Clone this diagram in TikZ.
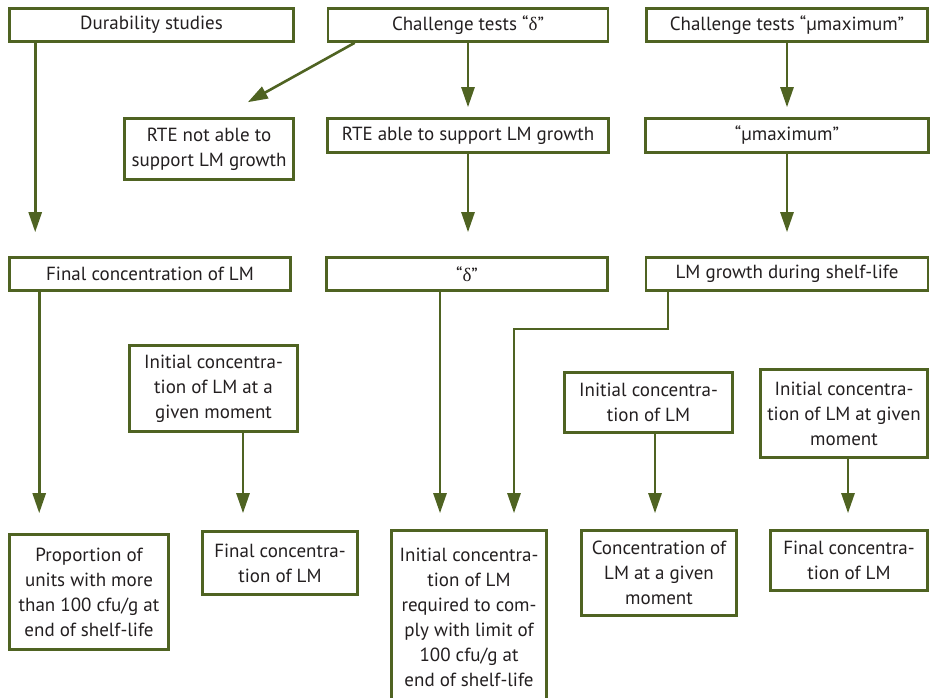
\documentclass[tikz,border=0pt]{standalone}
\usepackage{fontspec}
\setmainfont{PT Sans}
\newfontfamily\grk{Liberation Serif}
\usetikzlibrary{arrows.meta}
\definecolor{lmgreen}{RGB}{79,99,34}
\definecolor{lmtext}{RGB}{35,31,32}

\begin{document}
\begin{tikzpicture}[x=1pt, y=-1pt,
    every node/.style={font=\fontsize{19}{25}\selectfont, text=lmtext},
    box/.style={draw=lmgreen, line width=2.6pt, fill=white, align=center, inner sep=0pt},
    arrow/.style={draw=lmgreen, line width=2.6pt, -{Triangle[length=20pt,width=13pt]}}]
            \useasboundingbox (0,0) rectangle (931,698);

            \node[box, minimum width=284pt, minimum height=33pt] (dur) at (151.5,25) {Durability studies};
            \node[box, minimum width=280pt, minimum height=33pt] (chd) at (468,25) {Challenge tests “{\grk δ}”};
            \node[box, minimum width=281pt, minimum height=33pt] (chm) at (787,25) {Challenge tests “µmaximum”};

            \node[box, minimum width=169pt, minimum height=61pt] (rtenot) at (209,149) {RTE not able to\\support LM growth};
            \node[box, minimum width=281pt, minimum height=34pt] (rteable) at (468,135.5) {RTE able to support LM growth};
            \node[box, minimum width=283pt, minimum height=34pt] (mumax) at (787,135.5) {“µmaximum”};

            \node[box, minimum width=281pt, minimum height=33pt] (finconc) at (150,274) {Final concentration of LM};
            \node[box, minimum width=281pt, minimum height=33pt] (delta) at (467,274) {“{\grk δ}”};
            \node[box, minimum width=282pt, minimum height=33pt] (growth) at (787,274) {LM growth during shelf-life};

            \node[box, minimum width=168pt, minimum height=86pt] (initA) at (213.5,388.5) {Initial concentra-\\tion of LM at a\\given moment};
            \node[box, minimum width=168pt, minimum height=60pt] (initB) at (648.5,402.5) {Initial concentra-\\tion of LM};
            \node[box, minimum width=167pt, minimum height=88pt] (initC) at (844,413.5) {Initial concentra-\\tion of LM at given\\moment};

            \node[box, minimum width=159pt, minimum height=115pt] (prop) at (89,592) {Proportion of\\units with more\\than 100 cfu/g at\\end of shelf-life};
            \node[box, minimum width=155pt, minimum height=63pt] (finA) at (280,563) {Final concentra-\\tion of LM};
            \node[box, minimum width=155pt, minimum height=173pt, text depth=0pt] (initreq) at (469,617) {Initial concentra-\\tion of LM\\required to com-\\ply with limit of\\100 cfu/g at\\end of shelf-life};
            \node[box, minimum width=155pt, minimum height=85pt] (concgiven) at (659,573) {Concentration of\\LM at a given\\moment};
            \node[box, minimum width=157pt, minimum height=60pt] (finB) at (849,560.5) {Final concentra-\\tion of LM};

            \draw[arrow] ([xshift=27pt]dur.south west) -- ([xshift=27pt,yshift=24pt]finconc.north west);
            \draw[arrow] ([xshift=28pt]chd.south west) -- ([xshift=-47pt,yshift=15pt]rtenot.north east);
            \draw[arrow] (chd.south) -- ([yshift=10pt]rteable.north);
            \draw[arrow] (chm.south) -- ([yshift=10pt]mumax.north);
            \draw[arrow] (rteable.south) -- ([xshift=1pt,yshift=24pt]delta.north);
            \draw[arrow] (mumax.south) -- ([yshift=24pt]growth.north);
            \draw[arrow] ([xshift=31pt]finconc.south west) -- ([xshift=31pt,yshift=20pt]prop.north west);
            \draw[arrow] ([xshift=29.5pt]initA.south) -- ([xshift=-37pt,yshift=17pt]finA.north);
            \draw[arrow] ([xshift=-27pt]delta.south) -- ([xshift=-29pt,yshift=16pt]initreq.north);
            \draw[arrow] ([xshift=-119pt]growth.south) -- ++(0,37) -| ([xshift=45pt,yshift=16pt]initreq.north);
            \draw[arrow] ([xshift=6.5pt]initB.south) -- ([xshift=-4pt,yshift=16pt]concgiven.north);
            \draw[arrow] ([xshift=4pt]initC.south) -- ([xshift=-1pt,yshift=16pt]finB.north);

        \end{tikzpicture}
\end{document}
